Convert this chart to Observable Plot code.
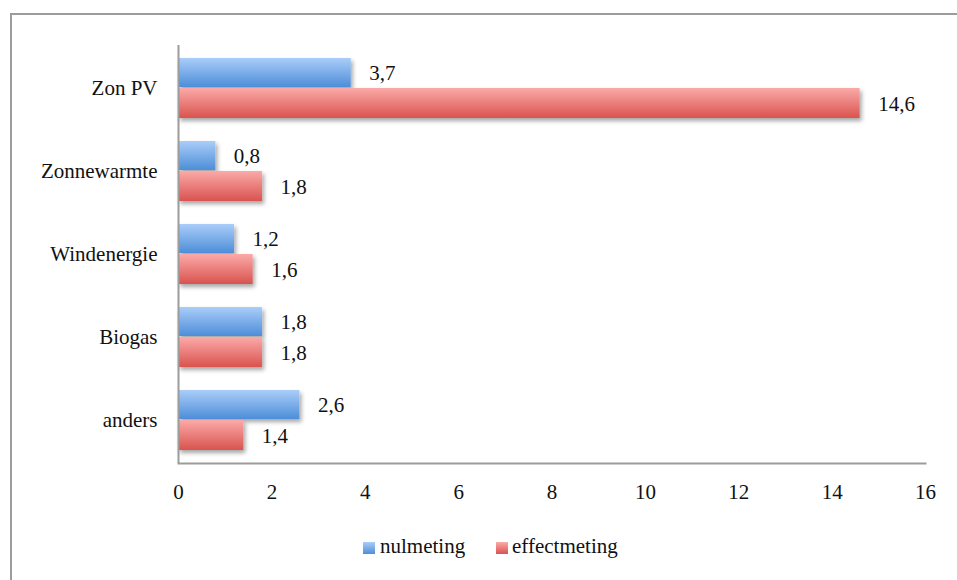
<!DOCTYPE html>
<html><head><meta charset="utf-8">
<script src="https://cdn.jsdelivr.net/npm/d3@7"></script>
<script src="https://cdn.jsdelivr.net/npm/@observablehq/plot@0.6"></script>
<style>
body{margin:0;background:#fff;font-family:"Liberation Serif",serif;}
#wrap{position:relative;width:957px;height:580px;overflow:hidden;}
#frame{position:absolute;left:10px;top:13px;width:1000px;height:700px;border:2px solid #9c9c9c;box-sizing:border-box;}
#chart{position:absolute;left:0;top:0;}
#legend{position:absolute;left:0;top:534px;width:957px;height:30px;font-family:"Liberation Serif",serif;font-size:21px;color:#111;}
.sw{position:absolute;width:12px;height:12px;top:8px;}
.lt{position:absolute;top:0px;font-family:"Liberation Serif",serif;}
</style></head><body>
<div id="wrap"><div id="frame"></div><div id="chart"></div>
<div id="legend">
<span class="sw" style="left:363px;background:linear-gradient(#aacdf9,#4d8ed8)"></span><span class="lt" style="left:380px">nulmeting</span>
<span class="sw" style="left:496px;background:linear-gradient(#fbaaa8,#d9534f)"></span><span class="lt" style="left:512px">effectmeting</span>
</div></div>
<script>
const categories = ["Zon PV","Zonnewarmte","Windenergie","Biogas","anders"];
const nulmeting = [3.7, 0.8, 1.2, 1.8, 2.6];
const effectmeting = [14.6, 1.8, 1.6, 1.8, 1.4];
const xTicks = [0,2,4,6,8,10,12,14,16];

const blue = categories.map((c,i)=>({category:c, value:nulmeting[i]}));
const red = categories.map((c,i)=>({category:c, value:effectmeting[i]}));
const fmt = d => String(d.value).replace(".", ",");

const plot = Plot.plot({
  width: 957, height: 520,
  marginLeft: 178, marginRight: 32, marginTop: 45, marginBottom: 57,
  style: {fontFamily: '"Liberation Serif", serif', fontSize: "21px", color: "#111", background: "transparent"},
  x: {domain: [0,16], axis: null},
  y: {domain: categories, paddingInner: 0.26, paddingOuter: 0.13, axis: null},
  marks: [
    Plot.barX(blue, {x: "value", y: "category", fill: "url(#gBlue)", insetBottom: 31, insetTop: 1}),
    Plot.barX(red, {x: "value", y: "category", fill: "url(#gRed)", insetTop: 31}),
    Plot.text(blue, {x: "value", y: "category", text: fmt, dx: 18, dy: -15, textAnchor: "start", fill: "#111", fontSize: 21}),
    Plot.text(red, {x: "value", y: "category", text: fmt, dx: 18, dy: 16, textAnchor: "start", fill: "#111", fontSize: 21}),
    Plot.axisY({tickSize: 0, tickPadding: 21, label: null, fontSize: 21}),
    Plot.axisX({ticks: xTicks, tickSize: 0, tickPadding: 21, label: null, fontSize: 21, tickFormat: d => String(d)}),
    Plot.ruleX([0], {stroke: "#9c9c9c", strokeWidth: 2}),
    Plot.frame({anchor: "bottom", stroke: "#9c9c9c", strokeWidth: 2})
  ]
});
const svg = d3.select(plot);
const defs = svg.insert("defs", ":first-child");
const g1 = defs.append("linearGradient").attr("id","gBlue").attr("x1",0).attr("y1",0).attr("x2",0).attr("y2",1);
g1.append("stop").attr("offset","0%").attr("stop-color","#aacdf9");
g1.append("stop").attr("offset","100%").attr("stop-color","#4d8ed8");
const g2 = defs.append("linearGradient").attr("id","gRed").attr("x1",0).attr("y1",0).attr("x2",0).attr("y2",1);
g2.append("stop").attr("offset","0%").attr("stop-color","#fbaaa8");
g2.append("stop").attr("offset","100%").attr("stop-color","#d9534f");
const f = defs.append("filter").attr("id","shadow").attr("x","-10%").attr("y","-10%").attr("width","130%").attr("height","160%");
f.append("feDropShadow").attr("dx",2).attr("dy",3).attr("stdDeviation",2).attr("flood-color","#000").attr("flood-opacity",0.35);
svg.selectAll('g[aria-label="bar"]').attr("filter","url(#shadow)");
document.getElementById("chart").appendChild(plot);
</script></body></html>
